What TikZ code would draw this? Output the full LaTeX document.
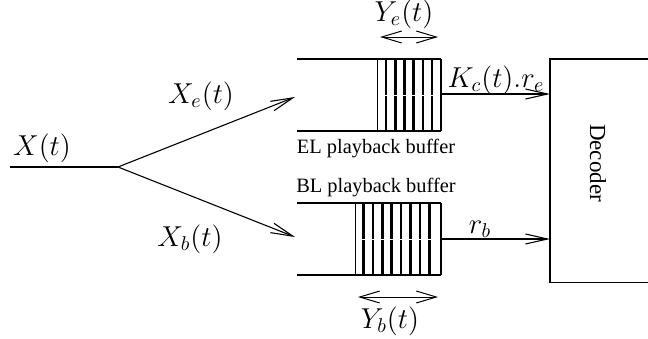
\documentclass[tikz,border=0pt]{standalone}
\usepackage{fontspec}
\setmainfont{Liberation Serif}
\usetikzlibrary{arrows.meta}
\begin{document}
\begin{tikzpicture}[x=0.5pt,y=-0.5pt,
  wire/.style={line width=0.55pt},
  arr/.style={wire,-{Straight Barb[length=11pt,width=5pt]}},
  darr/.style={line width=0.5pt,{Straight Barb[length=10pt,width=6pt]}-{Straight Barb[length=10pt,width=6pt]}},
  mlabel/.style={inner sep=0pt,font=\fontsize{14}{16}\selectfont},
  tlabel/.style={inner sep=0pt,font=\fontsize{10.2}{12}\selectfont},
  slat/.style={line width=1.3pt},
  frame/.style={line width=0.4pt}]
\useasboundingbox (0,0) rectangle (648,338);
% coordinates
\coordinate (in) at (10,167);
\coordinate (split) at (118,167);
\coordinate (elin) at (295,97);
\coordinate (blin) at (295,237);
\coordinate (elout) at (441,94);
\coordinate (blout) at (441,239);
% decoder
\node (dec) [anchor=north west,minimum width=49pt,minimum height=111.5pt,inner sep=0pt] at (550,59) {};
\draw[wire] (dec.north east) -- (dec.north west) -- (dec.south west) -- (dec.south east);
\node (dectext) [tlabel,font=\fontsize{11.5}{13}\selectfont,rotate=-90] at (598,163) {Decoder};
% input
\draw[wire] (in) -- (split);
\draw[arr] (split) -- (elin);
\draw[arr] (split) -- (blin);
% EL buffer
\draw[wire] (297,59) -- (441,59);
\draw[wire] (297,131) -- (441,131);
\draw[frame] (377,59) -- (377,131);
\draw[wire] (441,59) -- (441,131);
\foreach \x in {386,395.2,404.4,413.6,422.8,432} {\draw[slat] (\x,59) -- (\x,131);}
\draw[white,line width=0.4pt] (383,95) -- (436,95);
% BL buffer
\draw[wire] (297,203) -- (441,203);
\draw[wire] (297,275) -- (441,275);
\draw[frame] (355,203) -- (355,275);
\draw[wire] (441,203) -- (441,275);
\foreach \x in {363.5,372.9,382.3,391.7,401.1,410.5,419.9,429.3} {\draw[slat] (\x,203) -- (\x,275);}
\draw[white,line width=0.4pt] (360,239) -- (433,239);
% outputs
\draw[arr] (elout) -- (elout -| dec.west);
\draw[arr] (blout) -- (blout -| dec.west);
% size arrows
\coordinate (ye1) at (380,37);
\coordinate (ye2) at (438,37);
\draw[darr] (ye1) -- (ye2);
\coordinate (yb1) at (358,297);
\coordinate (yb2) at (438,297);
\draw[darr] (yb1) -- (yb2);
% labels
\node (lx) [mlabel] at (42,148) {$X(t)$};
\node (lxe) [mlabel] at (201,96) {$X_e(t)$};
\node (lxb) [mlabel] at (190,239) {$X_b(t)$};
\node (lye) [mlabel] at (404,14) {$Y_e(t)$};
\node (lyb) [mlabel] at (390,321) {$Y_b(t)$};
\node (lkc) [mlabel] at (496,80) {$K_c(t).r_e$};
\node (lrb) [mlabel] at (480,229) {$r_b$};
\node (lel) [tlabel] at (376,149) {EL playback buffer};
\node (lbl) [tlabel] at (376,188) {BL playback buffer};
\end{tikzpicture}
\end{document}
